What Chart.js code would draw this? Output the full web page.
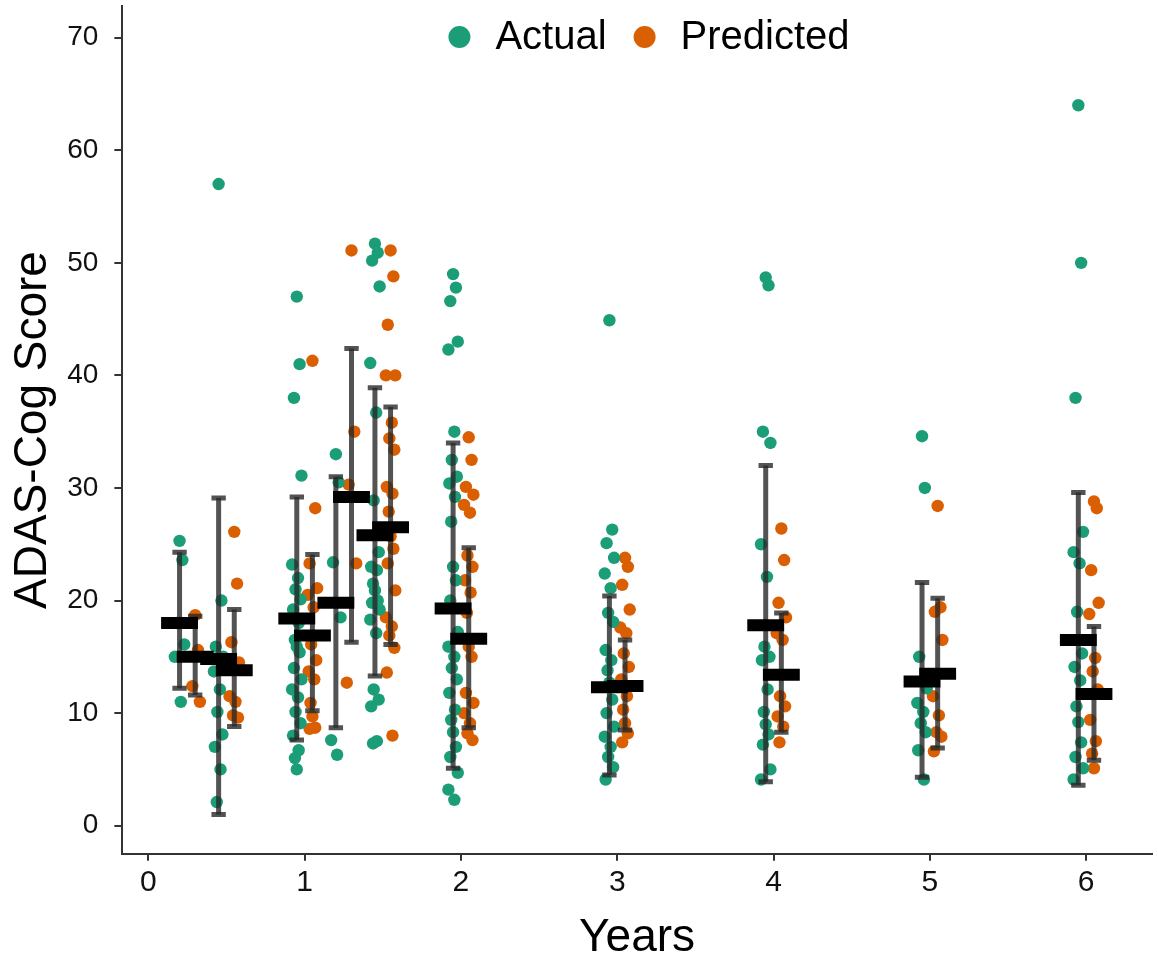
<!DOCTYPE html>
<html>
<head>
<meta charset="utf-8">
<script src="https://cdn.jsdelivr.net/npm/chart.js@4"></script>
<style>
  body { margin: 0; background: #fff; }
  #wrap { width: 1158px; height: 960px; }
</style>
</head>
<body>
<div id="wrap"><canvas id="adas" width="1158" height="960"></canvas></div>
<script>
// visit times (years)
var times = [0.25, 0.5, 1, 1.25, 1.5, 2, 3, 4, 5, 6];

var actualMean = [18.0, 14.8, 18.4, 19.8, 25.8, 19.3, 12.3, 17.8, 12.8, 16.5];
var actualLo   = [12.2, 1.0, 7.6, 8.7, 13.3, 5.1, 4.5, 3.9, 4.3, 3.6];
var actualHi   = [24.3, 29.1, 29.2, 31.0, 38.9, 34.0, 20.4, 32.0, 21.6, 29.6];

var predMean = [15.0, 13.8, 16.9, 29.2, 26.5, 16.6, 12.4, 13.4, 13.5, 11.7];
var predLo   = [11.6, 8.8, 10.2, 16.3, 16.1, 8.7, 8.5, 8.3, 6.9, 5.8];
var predHi   = [18.6, 19.2, 24.1, 42.4, 37.2, 24.7, 16.5, 18.9, 20.2, 17.7];

var actualPts = [
  [25.3, 23.6, 18.0, 16.1, 15.0, 11.0],
  [57.0, 20.0, 15.9, 15.0, 13.7, 12.1, 10.1, 8.1, 7.0, 5.0, 2.1],
  [47.0, 41.0, 38.0, 31.1, 23.2, 22.0, 21.0, 20.1, 19.2, 18.0, 16.5, 15.9, 15.4, 14.0, 13.0, 12.1, 11.4, 10.1, 9.1, 8.0, 6.7, 6.0, 5.0],
  [33.0, 30.5, 23.4, 18.5, 7.6, 6.3],
  [51.7, 50.9, 50.2, 47.9, 41.1, 36.7, 28.9, 24.3, 23.0, 22.7, 21.5, 20.9, 20.0, 19.8, 19.2, 18.3, 17.1, 12.1, 11.2, 10.6, 7.5, 7.3],
  [49.0, 47.8, 46.6, 43.0, 42.3, 35.0, 32.5, 31.0, 30.4, 29.2, 27.0, 23.0, 21.8, 20.0, 17.2, 15.9, 15.0, 14.0, 13.0, 11.8, 10.3, 9.4, 8.3, 7.0, 6.1, 4.7, 3.2, 2.3],
  [44.9, 26.3, 25.1, 23.8, 22.4, 21.1, 18.9, 18.1, 15.6, 14.7, 13.8, 12.7, 11.2, 10.0, 8.8, 7.9, 7.0, 6.1, 5.2, 4.1],
  [48.7, 48.0, 35.0, 34.0, 25.0, 22.1, 15.9, 15.0, 14.7, 12.1, 10.1, 9.0, 8.1, 7.2, 5.0, 4.1],
  [34.6, 30.0, 15.0, 12.2, 10.9, 10.1, 9.1, 8.3, 6.7, 4.1],
  [64.0, 50.0, 38.0, 26.1, 24.3, 23.3, 19.0, 15.3, 14.1, 12.9, 10.6, 9.2, 7.4, 6.1, 5.1, 4.1]
];

var predPts = [
  [18.7, 15.6, 12.4, 11.0],
  [26.1, 21.5, 16.3, 14.5, 11.5, 11.0, 9.8, 9.6],
  [41.3, 28.2, 23.3, 21.1, 20.5, 19.4, 16.1, 14.7, 13.7, 13.0, 10.9, 9.7, 8.7, 8.6],
  [51.1, 35.0, 30.3, 23.3, 12.7],
  [51.1, 48.8, 44.5, 40.0, 40.0, 35.8, 34.4, 33.4, 30.1, 29.5, 27.9, 25.7, 24.6, 23.3, 20.9, 18.5, 17.7, 16.9, 15.8, 13.6, 8.0],
  [34.5, 32.5, 30.1, 29.4, 28.5, 27.8, 24.0, 23.0, 21.8, 20.7, 18.9, 15.9, 15.0, 11.8, 10.9, 10.0, 9.1, 8.2, 7.6],
  [23.8, 23.0, 21.4, 19.2, 17.6, 17.1, 15.3, 14.1, 13.0, 11.5, 10.3, 9.1, 8.2, 7.4],
  [26.4, 23.6, 19.8, 18.5, 17.1, 16.5, 11.5, 10.6, 9.7, 8.8, 7.4],
  [28.4, 19.4, 19.0, 16.5, 11.5, 9.8, 8.3, 7.9, 6.6],
  [28.8, 28.2, 22.7, 19.8, 18.8, 14.9, 13.7, 12.1, 9.4, 7.5, 6.4, 5.1]
];

var GREEN = '#1B9E77';
var ORANGE = '#D95F02';
var ERR = 'rgba(40,40,40,0.8)';
var FONT = "'Liberation Sans', Arial, sans-serif";

var dodge = 0.05;      // actual left, predicted right
var capHalf = 0.046;   // half width of error bar caps
var meanHalf = 0.118;  // half width of mean bars
var jitter = [0, 0.018, -0.018, 0.03, -0.03, 0.008, -0.008, 0.024, -0.024, 0.012, -0.012];

function pointData(pts, shift) {
    var out = [];
    pts.forEach(function (vals, g) {
        vals.forEach(function (v, i) {
            out.push({x: times[g] + shift + jitter[i % jitter.length], y: v});
        });
    });
    return out;
}

function errData(lo, hi, shift) {
    var out = [];
    times.forEach(function (t, g) {
        out.push({x: t + shift, y: lo[g]});
        out.push({x: t + shift, y: hi[g]});
        out.push({x: t + shift, y: null});
    });
    return out;
}

function capData(lo, hi, shift) {
    var out = [];
    times.forEach(function (t, g) {
        [lo[g], hi[g]].forEach(function (v) {
            out.push({x: t + shift - capHalf, y: v});
            out.push({x: t + shift + capHalf, y: v});
            out.push({x: t + shift, y: null});
        });
    });
    return out;
}

function meanData(mean, shift) {
    var out = [];
    times.forEach(function (t, g) {
        out.push({x: t + shift - meanHalf, y: mean[g]});
        out.push({x: t + shift + meanHalf, y: mean[g]});
        out.push({x: t + shift, y: null});
    });
    return out;
}

function lineSet(label, data, color, width, order) {
    return {
        label: label,
        data: data,
        showLine: true,
        spanGaps: false,
        borderColor: color,
        borderWidth: width,
        borderCapStyle: 'butt',
        pointRadius: 0,
        pointHoverRadius: 0,
        order: order
    };
}

function pointSet(label, data, color) {
    return {
        label: label,
        data: data,
        backgroundColor: color,
        borderColor: color,
        borderWidth: 0,
        pointRadius: 6.2,
        pointStyle: 'circle',
        order: 3
    };
}

// legend drawn inside the panel, top centre, like the ggplot one
var topLegend = {
    id: 'topLegend',
    afterDraw: function (chart) {
        var c = chart.ctx;
        var area = chart.chartArea;
        var items = [{text: 'Actual', color: GREEN}, {text: 'Predicted', color: ORANGE}];
        var r = 11, gapText = 25, gapItem = 27, y = 37;
        c.save();
        c.font = '40px ' + FONT;
        c.textBaseline = 'middle';
        c.textAlign = 'left';
        var total = 0;
        items.forEach(function (it, i) {
            it.w = c.measureText(it.text).width;
            total += 2 * r + gapText + it.w + (i > 0 ? gapItem : 0);
        });
        var x = area.left + 0.5116 * (area.right - area.left) - total / 2;
        items.forEach(function (it) {
            c.fillStyle = it.color;
            c.beginPath();
            c.arc(x + r, y, r, 0, Math.PI * 2);
            c.fill();
            c.fillStyle = '#000';
            c.fillText(it.text, x + 2 * r + gapText, y + 1);
            x += 2 * r + gapText + it.w + gapItem;
        });
        c.restore();
    }
};

var ctx = document.getElementById('adas').getContext('2d');
var chart = new Chart(ctx, {
    type: 'scatter',
    data: { datasets: [
        pointSet('Actual', pointData(actualPts, -dodge), GREEN),
        pointSet('Predicted', pointData(predPts, dodge), ORANGE),
        lineSet('errA', errData(actualLo, actualHi, -dodge), ERR, 5, 2),
        lineSet('errP', errData(predLo, predHi, dodge), ERR, 5, 2),
        lineSet('capA', capData(actualLo, actualHi, -dodge), ERR, 5, 2),
        lineSet('capP', capData(predLo, predHi, dodge), ERR, 5, 2),
        lineSet('meanA', meanData(actualMean, -dodge), '#000', 12, 1),
        lineSet('meanP', meanData(predMean, dodge), '#000', 12, 1)
    ] },
    plugins: [topLegend],
    options: {
        responsive: false,
        animation: false,
        devicePixelRatio: 1,
        layout: { padding: { top: 5, right: 2, bottom: 0, left: 0 } },
        plugins: {
            tooltip: { enabled: false },
            legend: { display: false }
        },
        scales: {
            x: {
                type: 'linear',
                min: -0.166,
                max: 6.42,
                ticks: {
                    stepSize: 1,
                    includeBounds: false,
                    color: '#111',
                    padding: 4,
                    maxRotation: 0,
                    font: { family: FONT, size: 30 }
                },
                grid: { drawOnChartArea: false, drawTicks: true, tickLength: 7, color: '#333', lineWidth: 2 },
                border: { display: true, color: '#333', width: 2 },
                title: {
                    display: true,
                    text: 'Years',
                    color: '#000',
                    padding: { top: 6, bottom: -6 },
                    font: { family: FONT, size: 46 }
                }
            },
            y: {
                type: 'linear',
                min: -2.5,
                max: 72.8,
                afterFit: function (axis) {
                    // the top label sits well inside the panel, no need to reserve room for it
                    axis.paddingTop = 0;
                    axis.paddingBottom = 0;
                    axis.width -= 6;
                },
                ticks: {
                    stepSize: 10,
                    includeBounds: false,
                    color: '#111',
                    padding: 16,
                    font: { family: FONT, size: 28 }
                },
                grid: { drawOnChartArea: false, drawTicks: true, tickLength: 8, color: '#333', lineWidth: 2 },
                border: { display: true, color: '#333', width: 2 },
                title: {
                    display: true,
                    text: 'ADAS-Cog Score',
                    color: '#000',
                    padding: { top: 6, bottom: -4 },
                    font: { family: FONT, size: 46 }
                }
            }
        }
    }
});
</script>
</body>
</html>
